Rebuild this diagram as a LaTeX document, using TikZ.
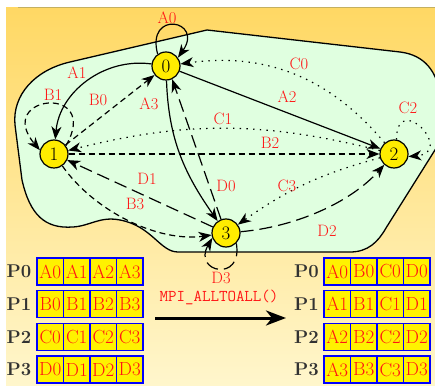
\documentclass[tikz,border=0pt]{standalone}
\usepackage{fontspec}
\usetikzlibrary{arrows.meta}
\definecolor{bgtop}{RGB}{255,216,100}
\definecolor{bgbot}{RGB}{255,246,204}
\definecolor{cloudfill}{RGB}{224,255,224}
\definecolor{frameline}{RGB}{196,176,96}
\definecolor{nodey}{RGB}{255,236,0}
\definecolor{plabc}{RGB}{50,50,50}
\definecolor{labred}{RGB}{255,20,20}
\tikzset{
  proc/.style={circle, draw=black, line width=1.2pt, fill=nodey, minimum size=28pt, inner sep=0pt, font=\fontsize{19}{19}\selectfont},
  lab/.style={text=labred, font=\fontsize{16.5}{17}\selectfont, inner sep=0pt},
  cell/.style={draw=blue, line width=1.3pt, fill=yellow, minimum width=26.5pt, minimum height=27pt, inner sep=0pt, text=labred, font=\fontsize{19}{19}\selectfont},
  plab/.style={font=\fontsize{18.5}{18.5}\selectfont\bfseries, text=plabc, inner sep=0pt},
  conn/.style={line width=1.2pt, -{Stealth[length=13pt,width=10pt,inset=4pt]}},
  dashB/.style={conn, dash pattern=on 6pt off 4pt},
  dashD/.style={conn, dash pattern=on 13pt off 6pt},
  dotC/.style={conn, dash pattern=on 1.4pt off 5.3pt},
}
\begin{document}
\begin{tikzpicture}[x=1pt,y=1pt]
\useasboundingbox (0,0) rectangle (435,385);
\clip (0,0) rectangle (435,385);
% background
\fill[top color=bgtop, bottom color=bgbot] (6,0) rectangle (435,377);
\draw[frameline, line width=1pt] (18,377) -- (435,377);
% cloud
\draw[fill=cloudfill, line width=1.3pt]
  (70,323) -- (207,355) -- (400,333)
  .. controls (425,330) and (437,313) .. (440,290)
  -- (440,243) -- (386,157)
  .. controls (378,143) and (368,133) .. (350,133)
  -- (178,133)
  .. controls (160,133) and (152,159) .. (120,165)
  .. controls (100,169) and (90,159) .. (73,158)
  .. controls (45,156) and (30,170) .. (22,205)
  -- (15,260)
  .. controls (12,290) and (35,315) .. (70,323) -- cycle;
% process nodes
\node[proc] (n0) at (166,319) {0};
\node[proc] (n1) at (54,231) {1};
\node[proc] (n2) at (394,231) {2};
\node[proc] (n3) at (226,152) {3};
% connectors
\draw[conn] (n0.125) .. controls +(105:46) and +(55:46) .. (n0.35);
\draw[conn] (n0) to[out=172,in=85] (n1);
\draw[dashB] (n1.35) .. controls +(60:72) and +(130:72) .. (n1.165);
\draw[dashB] (n1) -- (n0);
\draw[conn] (n0) to[out=-88,in=125] (n3);
\draw[dashD] (n3.110) -- (n0.-65);
\draw[conn] (n0) -- (n2);
\draw[dotC] (n2) to[out=130,in=8] (n0);
\draw[dotC] (n2) to[bend right=14] (n1);
\draw[dotC] (n2.80) .. controls +(90:50) and +(5:48) .. (n2.-10);
\draw[dashB] (n1) -- (n2);
\draw[dashD] (n3) -- (n1);
\draw[dashB] (n1) to[out=-55,in=188,looseness=0.85] (n3);
\draw[dotC] (n2) to[bend right=10] (n3);
\draw[dashD] (n3) to[out=5,in=228,looseness=0.85] (n2);
\draw[dashD] (n3.-45) .. controls +(-80:40) and +(-120:40) .. (n3.-160);
% labels
\node[lab] (tA0) at (167,367) {A0};
\node[lab] (tA1) at (77,312) {A1};
\node[lab] (tB1) at (53,290) {B1};
\node[lab] (tB0) at (98,285) {B0};
\node[lab] (tA3) at (149,281) {A3};
\node[lab] (tC0) at (299,321) {C0};
\node[lab] (tA2) at (287,288) {A2};
\node[lab] (tC1) at (223,266) {C1};
\node[lab] (tC2) at (408,277) {C2};
\node[lab] (tB2) at (270,242) {B2};
\node[lab] (tD1) at (147,206) {D1};
\node[lab] (tB3) at (135,181) {B3};
\node[lab] (tD0) at (226,199) {D0};
\node[lab] (tC3) at (287,199) {C3};
\node[lab] (tD2) at (327,154) {D2};
\node[lab] (tD3) at (221,107) {D3};
% buffers
\foreach \r/\L/\y in {0/A/113.5,1/B/80.8,2/C/48.1,3/D/15.4} {
  \node[plab] (lp\r) at (19,\y) {P\r};
  \node[plab] (rp\r) at (306.5,\y) {P\r};
  \foreach \c/\x/\xr/\M in {0/50.25/337.25/A,1/76.75/363.75/B,2/103.25/390.25/C,3/129.75/416.75/D} {
    \node[cell] (l\r\c) at (\x,\y) {\L\c};
    \node[cell] (r\r\c) at (\xr,\y) {\M\r};
  }
}
\node[text=labred, font=\ttfamily\fontsize{16.5}{17}\selectfont, inner sep=0pt] (mpi) at (219,88) {MPI\_ALLTOALL()};
\coordinate (as) at (155,67);
\coordinate (ae) at (286,67);
\draw[line width=3pt, -{Stealth[length=20pt,width=15pt,inset=6pt]}] (as) -- (ae);
\end{tikzpicture}
\end{document}
